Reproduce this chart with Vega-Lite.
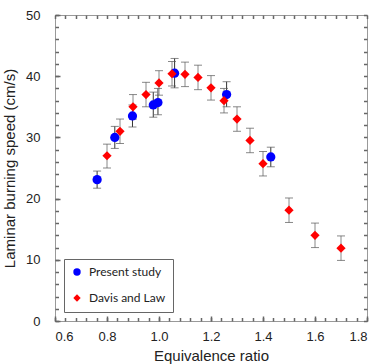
{
  "$schema": "https://vega.github.io/schema/vega-lite/v6.json",
  "width": 312,
  "height": 306,
  "autosize": "none",
  "padding": {"left": 55, "top": 15, "right": 10, "bottom": 43},
  "background": "white",
  "config": {
    "view": {"stroke": "#999999", "strokeWidth": 1},
    "axis": {"labelFont": "Liberation Sans", "titleFont": "Liberation Sans", "labelColor": "#222", "titleColor": "#222", "grid": false, "domain": false, "ticks": true}
  },
  "data": {"values": [
    {"phi": 0.762, "S": 23.1, "lo": 21.7, "hi": 24.5, "series": "Present study"},
    {"phi": 0.830, "S": 30.0, "lo": 28.2, "hi": 31.8, "series": "Present study"},
    {"phi": 0.898, "S": 33.5, "lo": 31.7, "hi": 35.3, "series": "Present study"},
    {"phi": 0.978, "S": 35.3, "lo": 33.3, "hi": 37.4, "series": "Present study"},
    {"phi": 0.996, "S": 35.7, "lo": 33.7, "hi": 38.0, "series": "Present study"},
    {"phi": 1.060, "S": 40.5, "lo": 38.1, "hi": 42.9, "series": "Present study"},
    {"phi": 1.260, "S": 37.0, "lo": 35.0, "hi": 39.1, "series": "Present study"},
    {"phi": 1.430, "S": 26.8, "lo": 25.2, "hi": 28.4, "series": "Present study"},
    {"phi": 0.80, "S": 27.0, "lo": 25.0, "hi": 28.9, "series": "Davis and Law"},
    {"phi": 0.85, "S": 31.0, "lo": 29.0, "hi": 33.0, "series": "Davis and Law"},
    {"phi": 0.90, "S": 35.0, "lo": 33.0, "hi": 37.0, "series": "Davis and Law"},
    {"phi": 0.95, "S": 37.0, "lo": 35.0, "hi": 39.0, "series": "Davis and Law"},
    {"phi": 1.00, "S": 38.9, "lo": 36.9, "hi": 40.9, "series": "Davis and Law"},
    {"phi": 1.05, "S": 40.4, "lo": 38.4, "hi": 42.4, "series": "Davis and Law"},
    {"phi": 1.10, "S": 40.3, "lo": 38.3, "hi": 42.3, "series": "Davis and Law"},
    {"phi": 1.15, "S": 39.8, "lo": 37.8, "hi": 41.8, "series": "Davis and Law"},
    {"phi": 1.20, "S": 38.1, "lo": 36.1, "hi": 40.1, "series": "Davis and Law"},
    {"phi": 1.25, "S": 36.0, "lo": 34.0, "hi": 38.0, "series": "Davis and Law"},
    {"phi": 1.30, "S": 33.0, "lo": 31.0, "hi": 35.0, "series": "Davis and Law"},
    {"phi": 1.35, "S": 29.5, "lo": 27.5, "hi": 31.5, "series": "Davis and Law"},
    {"phi": 1.40, "S": 25.7, "lo": 23.7, "hi": 27.7, "series": "Davis and Law"},
    {"phi": 1.50, "S": 18.1, "lo": 16.1, "hi": 20.1, "series": "Davis and Law"},
    {"phi": 1.60, "S": 14.0, "lo": 12.0, "hi": 16.0, "series": "Davis and Law"},
    {"phi": 1.70, "S": 11.9, "lo": 9.9, "hi": 13.9, "series": "Davis and Law"}
  ]},
  "resolve": {"axis": {"x": "independent", "y": "independent"}},
  "layer": [
    {
      "transform": [{"filter": "datum.series == 'Present study'"}],
      "mark": {"type": "rule", "color": "#333333", "strokeWidth": 1},
      "encoding": {
        "x": {"field": "phi", "type": "quantitative", "scale": {"domain": [0.6, 1.8], "nice": false, "zero": false},
              "axis": {"orient": "bottom", "offset": -5, "values": [0.6, 0.8, 1.0, 1.2, 1.4, 1.6, 1.8], "format": ".1f", "tickSize": 5, "tickColor": "#666", "tickWidth": 1.5, "labelFontSize": 13, "labelPadding": 9, "title": "Equivalence ratio", "titleFontSize": 15, "titleFontWeight": "normal", "titlePadding": 5}},
        "y": {"field": "lo", "type": "quantitative", "scale": {"domain": [0, 50], "nice": false},
              "axis": {"orient": "left", "offset": -5, "values": [0, 10, 20, 30, 40, 50], "tickSize": 5, "tickColor": "#666", "tickWidth": 1.5, "labelFontSize": 13, "labelPadding": 15, "title": "Laminar burning speed (cm/s)", "titleFontSize": 15, "titleFontWeight": "normal", "titlePadding": 8}},
        "y2": {"field": "hi"}
      }
    },
    {
      "transform": [{"filter": "datum.series == 'Davis and Law'"}],
      "mark": {"type": "rule", "color": "#888888", "strokeWidth": 1},
      "encoding": {
        "x": {"field": "phi", "type": "quantitative", "scale": {"domain": [0.6, 1.8], "nice": false, "zero": false},
              "axis": {"orient": "bottom", "offset": -3.5, "values": [0.6, 0.64, 0.68, 0.72, 0.76, 0.8, 0.84, 0.88, 0.92, 0.96, 1.0, 1.04, 1.08, 1.12, 1.16, 1.2, 1.24, 1.28, 1.32, 1.36, 1.4, 1.44, 1.48, 1.52, 1.56, 1.6, 1.64, 1.68, 1.72, 1.76, 1.8], "labels": false, "tickSize": 3.5, "tickColor": "#666", "tickWidth": 1.5, "title": null}},
        "y": {"field": "lo", "type": "quantitative", "scale": {"domain": [0, 50], "nice": false},
              "axis": {"orient": "left", "offset": -3.5, "values": [0,2,4,6,8,10,12,14,16,18,20,22,24,26,28,30,32,34,36,38,40,42,44,46,48,50], "labels": false, "tickSize": 3.5, "tickColor": "#666", "tickWidth": 1.5, "title": null}},
        "y2": {"field": "hi"}
      }
    },
    {
      "mark": {"type": "tick", "orient": "horizontal", "color": "#555555", "size": 8, "thickness": 1},
      "encoding": {
        "x": {"field": "phi", "type": "quantitative", "scale": {"domain": [0.6, 1.8], "nice": false, "zero": false},
              "axis": {"orient": "top", "offset": -3.5, "values": [0.6, 0.64, 0.68, 0.72, 0.76, 0.8, 0.84, 0.88, 0.92, 0.96, 1.0, 1.04, 1.08, 1.12, 1.16, 1.2, 1.24, 1.28, 1.32, 1.36, 1.4, 1.44, 1.48, 1.52, 1.56, 1.6, 1.64, 1.68, 1.72, 1.76, 1.8], "labels": false, "tickSize": 3.5, "tickColor": "#666", "tickWidth": 1.5, "title": null}},
        "y": {"field": "lo", "type": "quantitative", "scale": {"domain": [0, 50], "nice": false},
              "axis": {"orient": "right", "offset": -3.5, "values": [0,2,4,6,8,10,12,14,16,18,20,22,24,26,28,30,32,34,36,38,40,42,44,46,48,50], "labels": false, "tickSize": 3.5, "tickColor": "#666", "tickWidth": 1.5, "title": null}}
      }
    },
    {
      "mark": {"type": "tick", "orient": "horizontal", "color": "#555555", "size": 8, "thickness": 1},
      "encoding": {
        "x": {"field": "phi", "type": "quantitative", "scale": {"domain": [0.6, 1.8], "nice": false, "zero": false}, "axis": null},
        "y": {"field": "hi", "type": "quantitative", "scale": {"domain": [0, 50], "nice": false}, "axis": null}
      }
    },
    {
      "mark": {"type": "point", "filled": true, "opacity": 1, "size": 85},
      "encoding": {
        "x": {"field": "phi", "type": "quantitative", "scale": {"domain": [0.6, 1.8], "nice": false, "zero": false}, "axis": null},
        "y": {"field": "S", "type": "quantitative", "scale": {"domain": [0, 50], "nice": false}, "axis": null},
        "color": {"field": "series", "type": "nominal", "scale": {"domain": ["Present study", "Davis and Law"], "range": ["#0000ff", "#ff0000"]},
                  "legend": {"orient": "none", "legendX": 9, "legendY": 244, "title": null, "strokeColor": "#666", "padding": 7, "labelFont": "Lato", "labelFontSize": 12, "labelColor": "#222", "symbolSize": 55, "rowPadding": 12, "symbolOpacity": 1, "labelOffset": 6, "fillColor": "white"}},
        "shape": {"field": "series", "type": "nominal", "scale": {"domain": ["Present study", "Davis and Law"], "range": ["circle", "diamond"]}}
      }
    }
  ]
}
